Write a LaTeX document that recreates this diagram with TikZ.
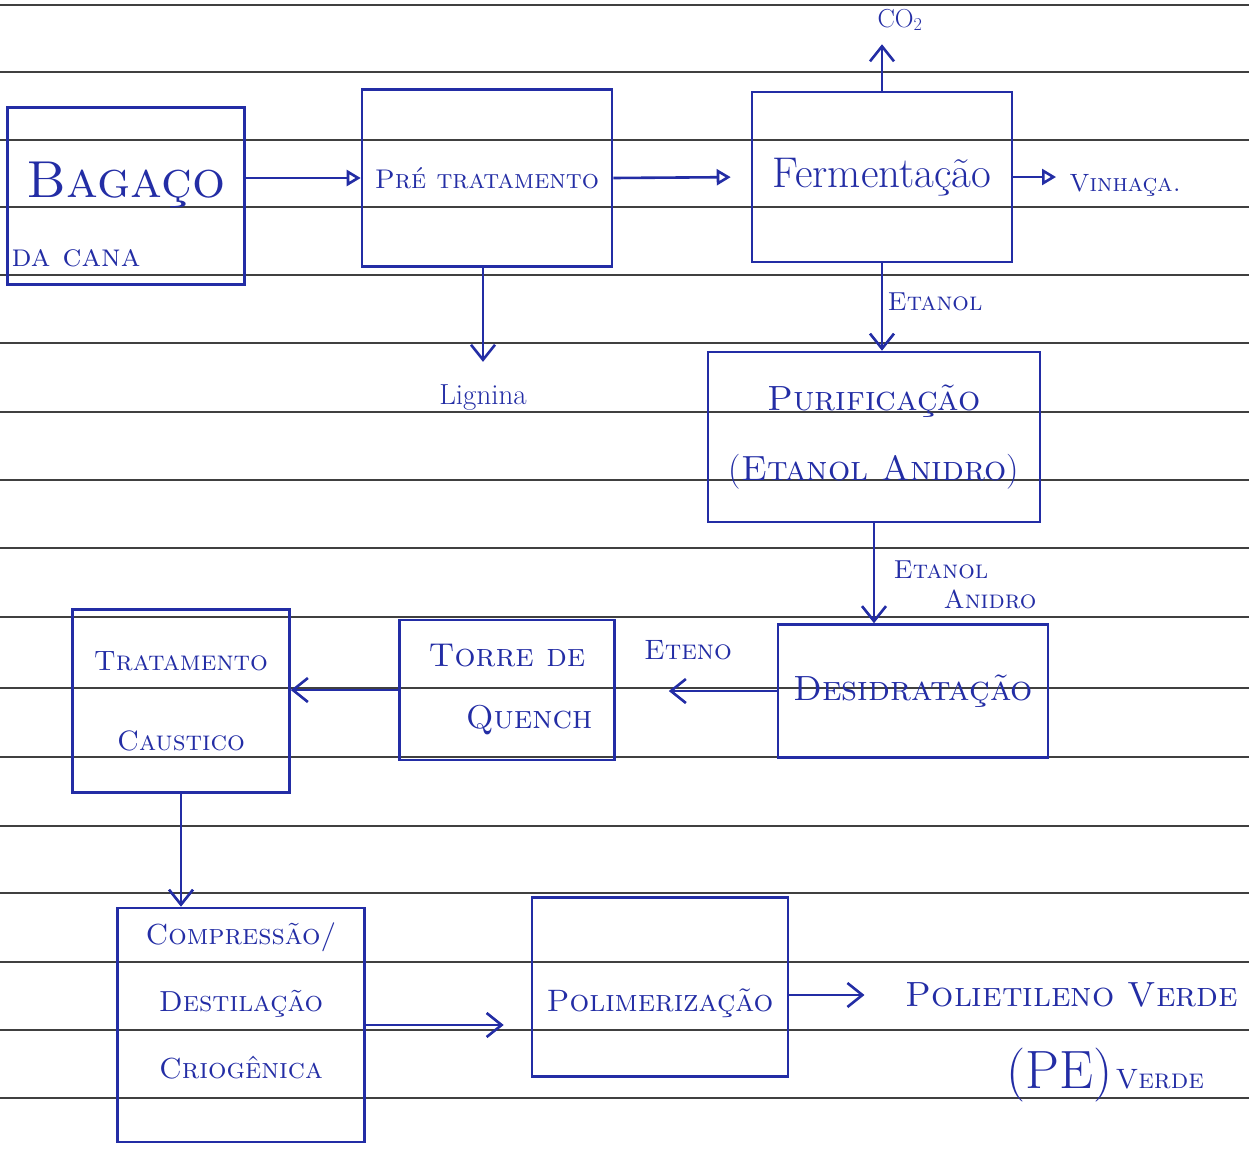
\documentclass[tikz,border=0pt]{standalone}
\usepackage{xcolor}
\usepackage{tikz}
\usetikzlibrary{arrows.meta,positioning}
\definecolor{ink}{RGB}{35,45,165}
\newcommand{\handsize}[2]{\fontsize{#1}{#2}\selectfont}

\begin{document}
\begin{tikzpicture}[x=1pt, y=-1pt, line width=2.6pt,
  >={Straight Barb[length=15pt,width=24pt]},
  box/.style={draw=ink, line width=2.6pt, text=ink, align=center},
  lbl/.style={text=ink, align=center, inner sep=0pt},
  flow/.style={draw=ink, ->},
  tri/.style={draw=ink, -{Triangle[open,length=14pt,width=16pt]}},
  rule/.style={draw=black!75, line width=1.4pt}]
\fill[white] (0,0) rectangle (1249,1151);
\useasboundingbox (0,0) rectangle (1249,1151);
% ruled paper
\foreach \y in {5,72,140,207,275,343,412,480,548,617,688,757,826,893,962,1030,1098}
  \draw[rule] (0,\y) -- (1249,\y);

% process boxes
\node[box, minimum width=237pt, minimum height=177pt, text depth=32pt, font=\handsize{52}{60}] (bagaco) at (126,196) {\textsc{Bagaço}};
\node[lbl, font=\handsize{32}{36}] (cana) at (76,258) {\textsc{da cana}};
\node[box, minimum width=250pt, minimum height=177pt, font=\handsize{27}{32}] (pretrat) at (487,178) {\textsc{Pré tratamento}};
\node[box, minimum width=260pt, minimum height=170pt, font=\handsize{43}{48}] (ferm) at (882,177) {Fermentação};
\node[box, minimum width=332pt, minimum height=170pt, font=\handsize{35}{70}] (purif) at (874,437) {\textsc{Purificação}\\(\textsc{Etanol Anidro})};
\node[box, minimum width=270pt, minimum height=133pt, font=\handsize{35}{40}] (desid) at (913,691) {\textsc{Desidratação}};
\node[box, minimum width=215pt, minimum height=140pt, font=\handsize{33}{62}] (torre) at (507,690) {\textsc{Torre de}\\\hspace*{44pt}\textsc{Quench}};
\node[box, minimum width=217pt, minimum height=183pt, font=\handsize{28}{80}] (caust) at (181,701) {\textsc{Tratamento}\\\textsc{Caustico}};
\node[box, minimum width=247pt, minimum height=234pt, text depth=48pt, font=\handsize{29}{67}] (compr) at (241,1025) {\textsc{Compressão/}\\\textsc{Destilação}\\\textsc{Criogênica}};
\node[box, minimum width=256pt, minimum height=179pt, text height=56pt, font=\handsize{31}{36}] (polim) at (660,987) {\textsc{Polimerização}};

% streams
\node[lbl, font=\handsize{26}{30}] (co2) at (900,20) {CO\textsubscript{2}};
\node[lbl, font=\handsize{25}{30}] (vinhaca) at (1125,185) {\textsc{Vinhaça.}};
\node[lbl, font=\handsize{29}{34}] (lignina) at (483,398) {Lignina};
\node[lbl, font=\handsize{26}{30}] (etanol) at (935,302) {\textsc{Etanol}};
\node[lbl, align=left, font=\handsize{26}{30}] (anidro) at (965,585) {\textsc{Etanol}\\\hspace*{50pt}\textsc{Anidro}};
\node[lbl, font=\handsize{28}{32}] (eteno) at (688,650) {\textsc{Eteno}};
\node[lbl, font=\handsize{35}{40}] (pe) at (1072,995) {\textsc{Polietileno Verde}};
\node[lbl] (pev) at (1105,1075) {{\handsize{54}{60}(PE)} {\handsize{28}{32}\textsc{Verde}}};

\draw[tri] (bagaco.east |- pretrat.west) -- (pretrat.west);
\draw[tri, shorten >=20pt] (pretrat.east) -- (ferm.west);
\draw[tri, shorten >=12pt] (ferm.east) -- (ferm.east -| vinhaca.west);
\draw[flow, shorten >=12pt] (ferm.north) -- (ferm.north |- co2.south);
\draw[flow, shorten >=22pt] (lignina.north |- pretrat.south) -- (lignina.north);
\draw[flow] (ferm.south) -- (ferm.south |- purif.north);
\draw[flow] (purif.south) -- (purif.south |- desid.north);
\draw[flow, shorten >=53pt] (desid.west) -- (desid.west -| torre.east);
\draw[flow] (torre.west) -- (torre.west -| caust.east);
\draw[flow] (caust.south) -- (caust.south |- compr.north);
\draw[flow, shorten >=27pt] (compr.east) -- (compr.east -| polim.west);
\draw[flow, shorten >=40pt] (polim.east |- pe.west) -- (pe.west);
\end{tikzpicture}
\end{document}
